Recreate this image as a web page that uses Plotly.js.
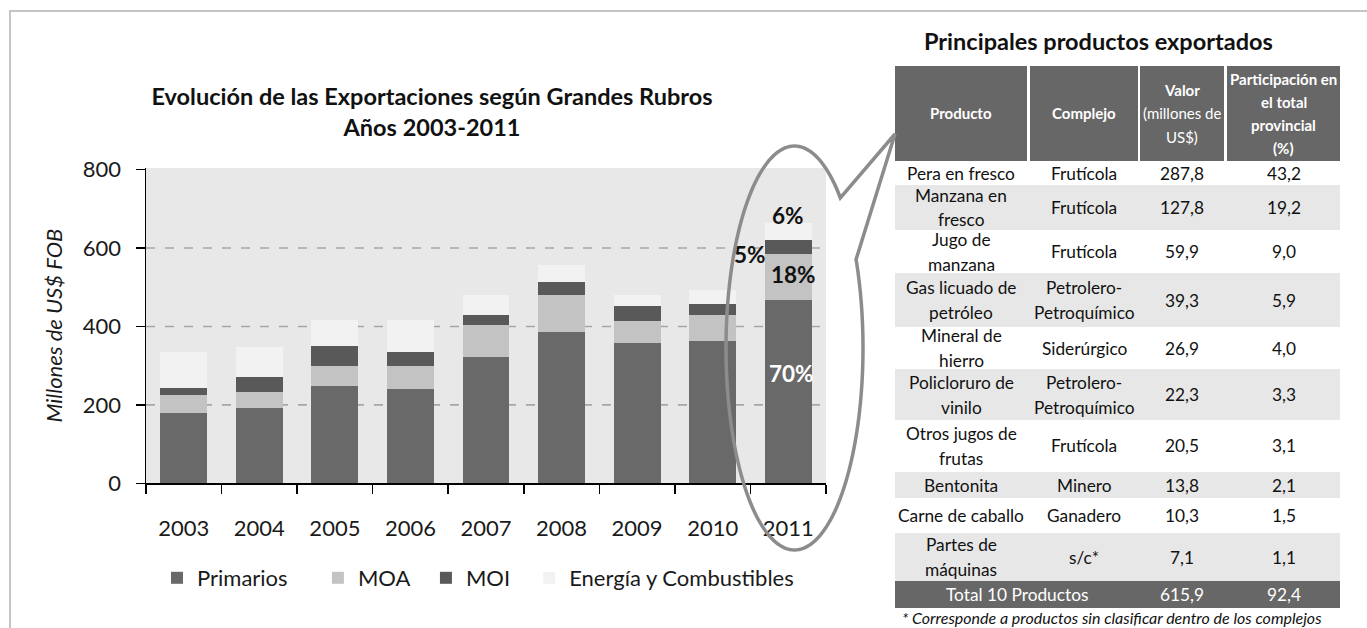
<!DOCTYPE html>
<html>
<head>
<meta charset="utf-8">
<script src="https://cdn.plot.ly/plotly-3.0.1.min.js"></script>
<style>html,body{margin:0;padding:0;background:#fff;}#chart{width:1367px;height:628px;}</style>
</head>
<body>
<div id="chart"></div>
<script>
// ---------- Chart data ----------
const years = ['2003','2004','2005','2006','2007','2008','2009','2010','2011'];
const primarios = [180, 191, 248, 241, 323, 387, 357, 364, 467];
const moa       = [ 45,  43,  52,  59,  81,  93,  56,  64, 117];
const moi       = [ 17,  36,  51,  34,  24,  34,  38,  29,  36];
const energia   = [ 92,  77,  66,  83,  52,  42,  29,  36,  43];
const seriesNames = ['Primarios', 'MOA', 'MOI', 'Energía y Combustibles'];
const yTicks = [0, 200, 400, 600, 800];
const gridVals = [200, 400, 600];

// ---------- Table data ----------
const tableTitle = 'Principales productos exportados';
const headerLabels = [
  [['Producto', true]],
  [['Complejo', true]],
  [['Valor', true], ['(millones de', false], ['US$)', false]],
  [['Participación en', true], ['el total', true], ['provincial', true], ['(%)', true]]
];
const productos = ['Pera en fresco', 'Manzana en\nfresco', 'Jugo de\nmanzana', 'Gas licuado de\npetróleo',
  'Mineral de\nhierro', 'Policloruro de\nvinilo', 'Otros jugos de\nfrutas', 'Bentonita',
  'Carne de caballo', 'Partes de\nmáquinas'];
const complejos = ['Frutícola', 'Frutícola', 'Frutícola', 'Petrolero-\nPetroquímico', 'Siderúrgico',
  'Petrolero-\nPetroquímico', 'Frutícola', 'Minero', 'Ganadero', 's/c*'];
const valores = [287.8, 127.8, 59.9, 39.3, 26.9, 22.3, 20.5, 13.8, 10.3, 7.1];
const participacion = [43.2, 19.2, 9.0, 5.9, 4.0, 3.3, 3.1, 2.1, 1.5, 1.1];
const totalLabel = 'Total 10 Productos';
const totalValor = 615.9;
const totalPart = 92.4;
const footnote = '* Corresponde a productos sin clasificar dentro de los complejos';

// ---------- Layout helpers ----------
const W = 1367, H = 628;
const px = x => x / W;
const py = y => 1 - y / H;
const FONT = 'Lato, "Noto Sans", sans-serif';
const fmt = v => v.toFixed(1).replace('.', ',');

const colors = ['#696969', '#c3c3c3', '#595959', '#f2f2f2'];
const seriesVals = [primarios, moa, moi, energia];
const NB = '\u00a0', TH = '\u2009';
const legendPads = [NB + NB + NB + NB + TH, NB + NB, NB + NB + TH, ''];

const traces = seriesVals.map((vals, i) => ({
  type: 'bar',
  name: seriesNames[i] + legendPads[i],
  x: years,
  y: vals,
  marker: {color: colors[i], line: {width: 0}},
  hoverinfo: 'x+y+name'
}));

const shapes = [];
const annotations = [];

// frame
shapes.push({type: 'path', xref: 'paper', yref: 'paper',
  path: `M ${px(10)},${py(628)} L ${px(10)},${py(11)} L ${px(1367)},${py(11)}`,
  line: {color: '#c4c4c4', width: 2}});

// dashed gridlines
gridVals.forEach(v => shapes.push({type: 'line', xref: 'x domain', yref: 'y', x0: 0, x1: 1, y0: v, y1: v,
  layer: 'below', line: {color: '#a6a6a6', width: 1.6, dash: '9px,10px'}}));

// 2011 percentage labels (category index of the last year)
const last = years.length - 1;
const P = primarios[last], M = moa[last], I = moi[last], E = energia[last];
const tot = P + M + I + E;
const pct = v => Math.round(v / tot * 100) + '%';
const pctFont = (c) => ({family: FONT, size: 22.5, color: c});
annotations.push({xref: 'x', yref: 'y', x: last, y: P * 0.6, text: '<b>' + pct(P) + '</b>', showarrow: false, font: pctFont('#ffffff'), xshift: 3});
annotations.push({xref: 'x', yref: 'y', x: last, y: P + M * 0.55, text: '<b>' + pct(M) + '</b>', showarrow: false, font: pctFont('#111111'), xshift: 5});
annotations.push({xref: 'x', yref: 'y', x: last, y: P + M, text: '<b>' + pct(I) + '</b>', showarrow: false, font: pctFont('#111111'), xshift: -38});
annotations.push({xref: 'x', yref: 'y', x: last, y: tot, text: '<b>' + pct(E) + '</b>', showarrow: false, font: pctFont('#111111'), yshift: 8});

// ellipse + callout
(function () {
  const cx = 794.5, cy = 348, rx = 68.5, ry = 202;
  const a0 = -26, a1 = 312.4;
  let d = '';
  for (let a = a0; a <= a1 + 0.001; a += 2) {
    const t = a * Math.PI / 180;
    const x = cx + rx * Math.cos(t), y = cy + ry * Math.sin(t);
    d += (d ? ' L ' : 'M ') + px(x) + ',' + py(y);
  }
  d += ` L ${px(895)},${py(134)} Z`;
  shapes.push({type: 'path', xref: 'paper', yref: 'paper', path: d, layer: 'above',
    line: {color: '#8c8c8c', width: 3.5}});
})();

// ---------- Table ----------
const colBounds = [[895, 1027], [1030, 1138], [1140, 1224], [1227, 1340]];
const tableLeft = 895, tableRight = 1340;
const headerTop = 66, headerBottom = 161;
const rowHeights = [24, 45, 43, 54, 42, 51, 52, 26, 35, 48];
const totalRowHeight = 27;
const bodyLineGap = 25, headerLineGap = 23.3;
const darkFill = '#676767', grayFill = '#e7e7e7';

annotations.push({xref: 'paper', yref: 'paper', x: px(1098), y: py(41), text: '<b>' + tableTitle + '</b>',
  showarrow: false, xanchor: 'center', yanchor: 'middle', font: {family: FONT, size: 23.5, color: '#111'}});

function addLines(lines, cxp, cyp, gap, baseFont) {
  const n = lines.length;
  lines.forEach((ln, k) => {
    const txt = Array.isArray(ln) ? (ln[1] ? '<b>' + ln[0] + '</b>' : ln[0]) : ln;
    const yy = cyp + (k - (n - 1) / 2) * gap;
    annotations.push({xref: 'paper', yref: 'paper', x: px(cxp), y: py(yy), text: txt, showarrow: false,
      xanchor: 'center', yanchor: 'middle', font: baseFont});
  });
}

// header
colBounds.forEach((cb, j) => {
  shapes.push({type: 'rect', xref: 'paper', yref: 'paper', x0: px(cb[0]), x1: px(cb[1]), y0: py(headerBottom), y1: py(headerTop),
    fillcolor: darkFill, line: {width: 0}, layer: 'below'});
  addLines(headerLabels[j], (cb[0] + cb[1]) / 2, (headerTop + headerBottom) / 2, headerLineGap,
    {family: FONT, size: 15, color: '#ffffff'});
});

// body rows
let yCur = headerBottom;
const cellTexts = [productos, complejos, valores.map(fmt), participacion.map(fmt)];
rowHeights.forEach((h, i) => {
  const y0 = yCur, y1 = yCur + h;
  if (i % 2 === 1) {
    shapes.push({type: 'rect', xref: 'paper', yref: 'paper', x0: px(tableLeft), x1: px(tableRight), y0: py(y1), y1: py(y0),
      fillcolor: grayFill, line: {width: 0}, layer: 'below'});
  }
  colBounds.forEach((cb, j) => {
    addLines(String(cellTexts[j][i]).split('\n'), (cb[0] + cb[1]) / 2, (y0 + y1) / 2, bodyLineGap,
      {family: FONT, size: 17.3, color: '#111111'});
  });
  yCur = y1;
});

// total row
shapes.push({type: 'rect', xref: 'paper', yref: 'paper', x0: px(tableLeft), x1: px(tableRight), y0: py(yCur + totalRowHeight), y1: py(yCur),
  fillcolor: darkFill, line: {width: 0}, layer: 'below'});
const totalY = yCur + totalRowHeight / 2;
const totFont = {family: FONT, size: 17.3, color: '#ffffff'};
addLines([totalLabel], (colBounds[0][0] + colBounds[1][1]) / 2, totalY, 0, totFont);
addLines([fmt(totalValor)], (colBounds[2][0] + colBounds[2][1]) / 2, totalY, 0, totFont);
addLines([fmt(totalPart)], (colBounds[3][0] + colBounds[3][1]) / 2, totalY, 0, totFont);

// footnote
annotations.push({xref: 'paper', yref: 'paper', x: px(900), y: py(617), text: '<i>' + footnote + '</i>', showarrow: false,
  xanchor: 'left', yanchor: 'middle', font: {family: FONT, size: 16, color: '#111'}});

const layout = {
  width: W, height: H,
  margin: {l: 0, r: 0, t: 0, b: 0},
  paper_bgcolor: '#ffffff',
  plot_bgcolor: '#e8e8e8',
  font: {family: FONT, color: '#1a1a1a'},
  barmode: 'stack',
  bargap: 0.38,
  showlegend: true,
  title: {
    text: '<b>Evolución de las Exportaciones según Grandes Rubros</b><br><b>Años 2003-2011</b>',
    x: px(432), xanchor: 'center', y: py(105), yanchor: 'middle',
    font: {family: FONT, size: 23.5, color: '#111'}
  },
  xaxis: {
    domain: [px(146), px(826)],
    type: 'category',
    range: [-0.5, years.length - 0.5],
    tickson: 'boundaries',
    ticks: 'outside', ticklen: 9, tickwidth: 1.5, tickcolor: '#000',
    showline: true, linecolor: '#000', linewidth: 1.5,
    showgrid: false, zeroline: false,
    tickfont: {family: FONT, size: 22, color: '#1a1a1a'},
    ticklabelstandoff: 25,
    fixedrange: true
  },
  yaxis: {
    domain: [py(483.3), py(168)],
    range: [0, 804],
    tickvals: yTicks,
    ticks: 'outside', ticklen: 9, tickwidth: 1.5, tickcolor: '#000',
    showline: true, linecolor: '#000', linewidth: 1.5,
    showgrid: false, zeroline: false,
    tickfont: {family: FONT, size: 22, color: '#1a1a1a'},
    ticklabelstandoff: 10,
    title: {text: '<i>Millones de US$ FOB</i>', standoff: 14, font: {family: FONT, size: 22, color: '#1a1a1a'}},
    fixedrange: true
  },
  legend: {
    orientation: 'h',
    x: px(157), xanchor: 'left',
    y: py(578), yanchor: 'middle',
    font: {family: FONT, size: 22, color: '#1a1a1a'},
    bgcolor: 'rgba(0,0,0,0)',
    traceorder: 'normal'
  },
  shapes: shapes,
  annotations: annotations
};

Plotly.newPlot('chart', traces, layout, {displayModeBar: false, staticPlot: true});
</script>
</body>
</html>
